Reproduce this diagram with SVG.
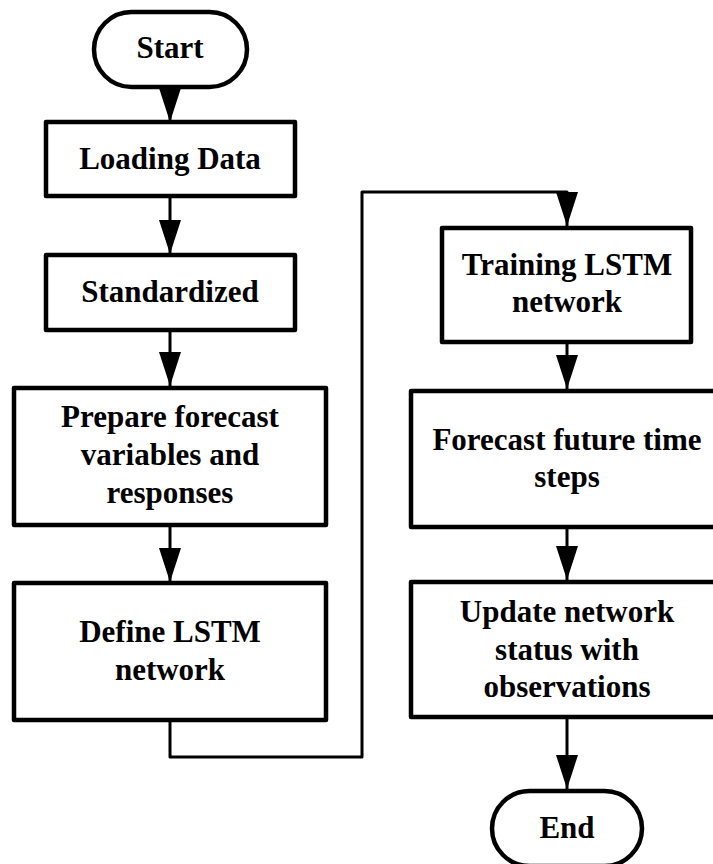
<svg xmlns="http://www.w3.org/2000/svg" width="713" height="864" viewBox="0 0 713 864">
<style>
.box{fill:#fff;stroke:#000;stroke-width:4.5;stroke-linejoin:round}
.lbl{font-family:"Liberation Serif","Times New Roman",serif;font-weight:bold;font-size:31px;fill:#000;text-anchor:middle}
.con{fill:none;stroke:#000;stroke-width:3;stroke-linejoin:round}
</style>
<defs>
<marker id="ah" viewBox="0 0 34 22" markerWidth="34" markerHeight="22" markerUnits="userSpaceOnUse" refX="34" refY="11" orient="auto">
<path d="M0,0 L34,11 L0,22 z" fill="#000"/>
</marker>
</defs>
<rect width="713" height="864" fill="#fff"/>
<g id="connectors">
<line class="con" x1="170" y1="88" x2="170" y2="122" marker-end="url(#ah)"/>
<line class="con" x1="170" y1="197" x2="170" y2="254" marker-end="url(#ah)"/>
<line class="con" x1="170" y1="330" x2="170" y2="386" marker-end="url(#ah)"/>
<line class="con" x1="170" y1="525" x2="170" y2="582" marker-end="url(#ah)"/>
<path class="con" d="M170,720 V757 H362 V192 H567 V226" marker-end="url(#ah)"/>
<line class="con" x1="567" y1="342" x2="567" y2="389" marker-end="url(#ah)"/>
<line class="con" x1="567" y1="527" x2="567" y2="580" marker-end="url(#ah)"/>
<line class="con" x1="567" y1="717" x2="567" y2="789" marker-end="url(#ah)"/>
</g>
<g id="start">
<rect class="box" x="94" y="12" width="153" height="75" rx="37.5"/>
<text class="lbl" x="170" y="58">Start</text>
</g>
<g id="loading">
<rect class="box" x="46" y="122" width="249" height="74"/>
<text class="lbl" x="170" y="169">Loading Data</text>
</g>
<g id="standardized">
<rect class="box" x="46" y="255" width="249" height="75"/>
<text class="lbl" x="170" y="302">Standardized</text>
</g>
<g id="prepare">
<rect class="box" x="14" y="388" width="312" height="137"/>
<text class="lbl" x="170" y="427">Prepare forecast</text>
<text class="lbl" x="170" y="465">variables and</text>
<text class="lbl" x="170" y="503">responses</text>
</g>
<g id="define">
<rect class="box" x="14" y="583" width="312" height="137"/>
<text class="lbl" x="170" y="642">Define LSTM</text>
<text class="lbl" x="170" y="680">network</text>
</g>
<g id="training">
<rect class="box" x="442" y="228" width="249" height="114"/>
<text class="lbl" x="567" y="275">Training LSTM</text>
<text class="lbl" x="567" y="312">network</text>
</g>
<g id="forecast">
<rect class="box" x="411" y="391" width="312" height="136"/>
<text class="lbl" x="567" y="450">Forecast future time</text>
<text class="lbl" x="567" y="487">steps</text>
</g>
<g id="update">
<rect class="box" x="411" y="582" width="312" height="135"/>
<text class="lbl" x="567" y="622">Update network</text>
<text class="lbl" x="567" y="660">status with</text>
<text class="lbl" x="567" y="697">observations</text>
</g>
<g id="end">
<rect class="box" x="492" y="791" width="150" height="75" rx="37.5"/>
<text class="lbl" x="567" y="838">End</text>
</g>
</svg>
